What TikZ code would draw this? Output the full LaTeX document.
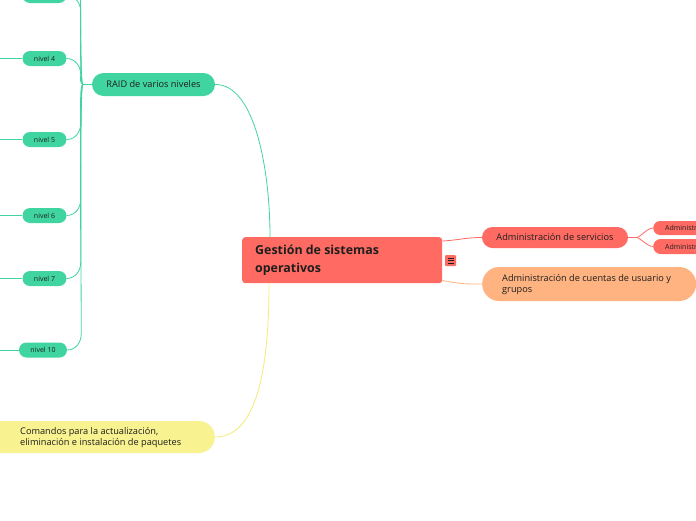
\documentclass[tikz,border=0pt]{standalone}
\usepackage{fontspec}
\usetikzlibrary{calc}
\setmainfont{Open Sans}
\definecolor{cgreen}{HTML}{40D5A0}
\definecolor{cred}{HTML}{FF6B63}
\definecolor{corange}{HTML}{FFB380}
\definecolor{cyellow}{HTML}{F8F290}
\definecolor{cyline}{HTML}{F5EA78}
\definecolor{ctext}{HTML}{1E1E1E}
\begin{document}
\begin{tikzpicture}[x=1pt,y=-1pt,
  pill/.style={rounded corners=#1, inner sep=0pt, text=ctext, draw=none},
  nivelbox/.style={pill=7.5pt, fill=cgreen, minimum height=15pt, font=\fontsize{7}{8}\selectfont},
  midfont/.style={font=\fontsize{9.2}{11.3}\selectfont},
  smallfont/.style={font=\fontsize{7}{8}\selectfont},
  txt/.style={inner sep=0pt, text=ctext, align=left, anchor=west},
  link/.style={line width=0.8pt}]
\useasboundingbox (0,0) rectangle (696,520);
\clip (0,0) rectangle (696,520);
\fill[white] (0,0) rectangle (696,520);

% central
\node[pill=3pt, fill=cred, minimum width=200pt, minimum height=46pt, anchor=north west] (root) at (242,237) {};
\node[txt, font=\fontsize{12.4}{18}\selectfont\bfseries] (roott) at (255,260.5) {Gesti\'on de sistemas\\operativos};
\node[rounded corners=1pt, fill=cred, minimum width=11pt, minimum height=11pt, inner sep=0pt] (icon) at (450.5,260.5) {};
\foreach \dy in {-2.5,0,2.5} \draw[ctext, line width=0.6pt] ([xshift=-3pt,yshift=\dy pt]icon.center) -- ([xshift=3pt,yshift=\dy pt]icon.center);

% RAID
\node[pill=11.5pt, fill=cgreen, minimum width=123pt, minimum height=23pt, midfont] (raid) at (153.5,84.5) {RAID de varios niveles};

\node[nivelbox, minimum width=44pt] (off2) at (44.5,-120) {};
\node[nivelbox, minimum width=44pt] (off1) at (44.5,-60) {};
\node[nivelbox, minimum width=44pt] (n3) at (44.5,-4.5) {};
\node[nivelbox, minimum width=44pt] (n4) at (44.5,58.5) {nivel 4};
\node[nivelbox, minimum width=44pt] (n5) at (44.5,139.5) {nivel 5};
\node[nivelbox, minimum width=44pt] (n6) at (44.5,215.5) {nivel 6};
\node[nivelbox, minimum width=44pt] (n7) at (44.5,278.5) {nivel 7};
\node[nivelbox, minimum width=48pt] (n10) at (43,350) {nivel 10};

\foreach \n/\s/\k in {n3/-1/25,n4/-1/3,n5/1/15,n6/1/40,n7/1/60,n10/1/80,off1/-1/40,off2/-1/60} {
  \draw[link, cgreen] (raid.west) -- ++(-9,0)
    .. controls +(-3,0) and +(0,-\s*\k) .. ($(\n.east)+(14,-\s*16)$)
    .. controls +(0,\s*9) and +(8,0) .. (\n.east);
}
\foreach \n in {n3,n4,n5,n6,n7,n10}
  \draw[link, cgreen] (\n.west) -- ++(-40,0);

% Comandos
\node[pill=16pt, fill=cyellow, minimum width=235pt, minimum height=32pt, anchor=east] (cmd) at (215,437) {};
\node[txt, midfont] (cmdt) at (20,437.5) {Comandos para la actualizaci\'on,\\eliminaci\'on e instalaci\'on de paquetes};

% Admin servicios
\node[pill=10.5pt, fill=cred, minimum width=146pt, minimum height=21pt, midfont] (serv) at (555,237.5) {Administraci\'on de servicios};
\node[pill=7pt, fill=cred, minimum height=14pt, anchor=west, inner xsep=12pt, smallfont] (s1) at (653,228) {Administraci\'on};
\node[pill=7.5pt, fill=cred, minimum height=15pt, anchor=west, inner xsep=12pt, smallfont] (s2) at (653,246.5) {Administraci\'on};

% Admin cuentas
\node[pill=17pt, fill=corange, minimum width=214pt, minimum height=34pt, anchor=west] (cuen) at (482,284) {};
\node[txt, midfont] (cuent) at (502,284.5) {Administraci\'on de cuentas de usuario y\\grupos};

% connectors
\draw[link, cgreen] (raid.east) .. controls (255,84) and (270,170) .. ([xshift=28pt]root.north west);
\draw[link, cyline] ([xshift=27pt]root.south west) .. controls (269,390) and (250,437) .. (cmd.east);
\draw[link, cred] ([yshift=-4pt]root.north east) .. controls (460,240) and (465,237.5) .. (serv.west);
\draw[link, corange] ([yshift=3pt]root.south east) .. controls (460,284) and (465,284) .. (cuen.west);
\draw[link, cred] (serv.east) -- ++(8,0) .. controls +(4,0) and +(-6,0) .. (s1.west);
\draw[link, cred] (serv.east) -- ++(8,0) .. controls +(4,0) and +(-6,0) .. (s2.west);
\end{tikzpicture}
\end{document}
